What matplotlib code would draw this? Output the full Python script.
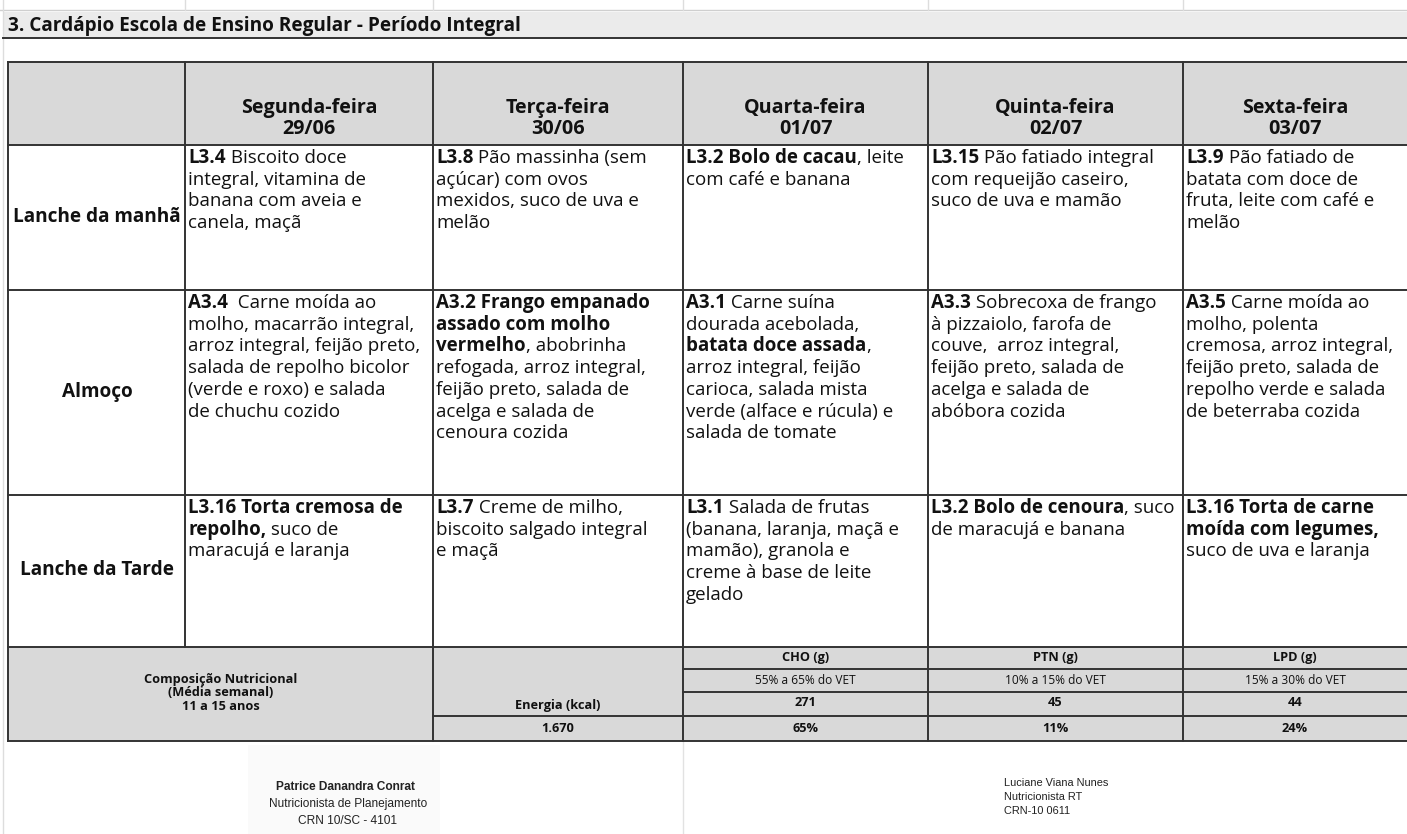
import matplotlib
matplotlib.use("Agg")
import matplotlib.pyplot as plt
from matplotlib.patches import Rectangle
from matplotlib.font_manager import FontProperties

# ---------------- data ----------------
title = "3. Cardápio Escola de Ensino Regular - Período Integral"
days = ["Segunda-feira", "Terça-feira", "Quarta-feira", "Quinta-feira", "Sexta-feira"]
dates = ["29/06", "30/06", "01/07", "02/07", "03/07"]
meals = ["Lanche da manhã", "Almoço", "Lanche da Tarde"]

# **text** = bold
lanche_manha = [
    ["**L3.4** Biscoito doce", "integral, vitamina de", "banana com aveia e", "canela, maçã"],
    ["**L3.8** Pão massinha (sem", "açúcar) com ovos", "mexidos, suco de uva e", "melão"],
    ["**L3.2 Bolo de cacau**, leite", "com café e banana"],
    ["**L3.15** Pão fatiado integral", "com requeijão caseiro,", "suco de uva e mamão"],
    ["**L3.9** Pão fatiado de", "batata com doce de", "fruta, leite com café e", "melão"],
]
almoco = [
    ["**A3.4**  Carne moída ao", "molho, macarrão integral,", "arroz integral, feijão preto,",
     "salada de repolho bicolor", "(verde e roxo) e salada", "de chuchu cozido"],
    ["**A3.2 Frango empanado**", "**assado com molho**", "**vermelho**, abobrinha",
     "refogada, arroz integral,", "feijão preto, salada de", "acelga e salada de", "cenoura cozida"],
    ["**A3.1** Carne suína", "dourada acebolada,", "**batata doce assada**,", "arroz integral, feijão",
     "carioca, salada mista", "verde (alface e rúcula) e", "salada de tomate"],
    ["**A3.3** Sobrecoxa de frango", "à pizzaiolo, farofa de", "couve,  arroz integral,",
     "feijão preto, salada de", "acelga e salada de", "abóbora cozida"],
    ["**A3.5** Carne moída ao", "molho, polenta", "cremosa, arroz integral,",
     "feijão preto, salada de", "repolho verde e salada", "de beterraba cozida"],
]
lanche_tarde = [
    ["**L3.16 Torta cremosa de**", "**repolho,** suco de", "maracujá e laranja"],
    ["**L3.7** Creme de milho,", "biscoito salgado integral", "e maçã"],
    ["**L3.1** Salada de frutas", "(banana, laranja, maçã e", "mamão), granola e",
     "creme à base de leite", "gelado"],
    ["**L3.2 Bolo de cenoura**, suco", "de maracujá e banana"],
    ["**L3.16 Torta de carne**", "**moída com legumes,**", "suco de uva e laranja"],
]
menu = [lanche_manha, almoco, lanche_tarde]

comp_label = ["Composição Nutricional", "(Média semanal)", "11 a 15 anos"]
energy_label = "Energia (kcal)"
energy_value = "1.670"
nutrients = ["CHO (g)", "PTN (g)", "LPD (g)"]
nutrient_ranges = ["55% a 65% do VET", "10% a 15% do VET", "15% a 30% do VET"]
nutrient_grams = ["271", "45", "44"]
nutrient_pct = ["65%", "11%", "24%"]

sig_left = ["Patrice Danandra Conrat", "Nutricionista de Planejamento", "CRN 10/SC - 4101"]
sig_right = ["Luciane Viana Nunes", "Nutricionista RT", "CRN-10 0611"]

# ---------------- layout ----------------
W, H = 1407, 834
col_x = [8, 185, 433, 683, 928, 1183, W]
head_top, head_bot = 62, 145
row_y = [145, 290, 495, 647]
nut_y = [647, 669, 692, 716, 741]

FONT = ["Open Sans", "DejaVu Sans"]
LINE = "#333333"
GRAY = "#d9d9d9"
TXT = "#111111"

fig = plt.figure(figsize=(W / 100, H / 100), dpi=100)
ax = fig.add_axes([0, 0, 1, 1])
ax.set_xlim(0, W)
ax.set_ylim(H, 0)
ax.axis("off")
renderer = fig.canvas.get_renderer()

# spreadsheet grid remnants
ax.plot([0, W], [10, 10], color="#cfcfcf", lw=1)
for x in col_x[1:6]:
    ax.plot([x, x], [0, 10], color="#dddddd", lw=1)
ax.plot([3, 3], [0, H], color="#dddddd", lw=1)
ax.plot([683, 683], [741, H], color="#e2e2e2", lw=1)

# title bar
ax.add_patch(Rectangle((3, 12), W - 3, 26, fc="#ebebeb", ec="none"))
ax.plot([3, W], [38, 38], color=LINE, lw=1.4)
ax.text(8, 26, title, fontsize=13.7, fontweight="bold", family=FONT, va="center", ha="left", color=TXT)

# shaded header and nutrition block
ax.add_patch(Rectangle((col_x[0], head_top), W - col_x[0], head_bot - head_top, fc=GRAY, ec="none"))
ax.add_patch(Rectangle((col_x[0], nut_y[0]), W - col_x[0], nut_y[-1] - nut_y[0], fc=GRAY, ec="none"))

# grid lines of the menu table
for y in [head_top, head_bot] + row_y[1:]:
    ax.plot([col_x[0], W], [y, y], color=LINE, lw=1.4)
for x in col_x[:6]:
    ax.plot([x, x], [head_top, row_y[-1]], color=LINE, lw=1.4)
# nutrition block lines
for y in nut_y[1:3]:
    ax.plot([col_x[3], W], [y, y], color=LINE, lw=1.4)
ax.plot([col_x[2], W], [nut_y[3], nut_y[3]], color=LINE, lw=1.4)
ax.plot([col_x[0], W], [nut_y[4], nut_y[4]], color=LINE, lw=1.4)
for x in [col_x[0], col_x[2], col_x[3], col_x[4], col_x[5]]:
    ax.plot([x, x], [nut_y[0], nut_y[-1]], color=LINE, lw=1.4)

# header
for i, (d, dt) in enumerate(zip(days, dates)):
    cx = (col_x[i + 1] + col_x[i + 2]) / 2
    ax.text(cx, 113, d, fontsize=14.2, fontweight="bold", family=FONT, ha="center", va="baseline", color=TXT)
    ax.text(cx, 134, dt, fontsize=14.2, fontweight="bold", family=FONT, ha="center", va="baseline", color=TXT)

# row labels
for r, m in enumerate(meals):
    cy = (row_y[r] + row_y[r + 1]) / 2
    ax.text((col_x[0] + col_x[1]) / 2 + 0.5, cy - 1, m, fontsize=13.7, fontweight="bold", family=FONT,
            ha="center", va="center", color=TXT)

BODY = 13.5
props = {w: FontProperties(family=FONT, size=BODY, weight=w) for w in ("normal", "bold")}


def text_w(s, weight):
    fp = props[weight]
    a = renderer.get_text_width_height_descent("|" + s + "|", fp, ismath=False)[0]
    b = renderer.get_text_width_height_descent("||", fp, ismath=False)[0]
    return a - b


def rich_line(x, y, markup):
    parts = markup.split("**")
    cx = x
    for i, p in enumerate(parts):
        if not p:
            continue
        w = "bold" if i % 2 else "normal"
        ax.text(cx, y, p, fontproperties=props[w], ha="left", va="baseline", color=TXT)
        cx += text_w(p, w)


for r, row in enumerate(menu):
    for c, lines in enumerate(row):
        x0 = col_x[c + 1] + 3
        for k, ln in enumerate(lines):
            rich_line(x0, row_y[r] + 18 + k * 21.7, ln)

# nutrition block text
NS = 9.2
ccx = (col_x[0] + col_x[2]) / 2
for k, s in enumerate(comp_label):
    ax.text(ccx, 679 + k * 13.5, s, fontsize=NS, fontweight="bold", family=FONT, ha="center", va="center", color=TXT)
ecx = (col_x[2] + col_x[3]) / 2
ax.text(ecx, 706, energy_label, fontsize=NS, fontweight="bold", family=FONT, ha="center", va="center", color=TXT)
ax.text(ecx, 729, energy_value, fontsize=NS, fontweight="bold", family=FONT, ha="center", va="center", color=TXT)
for j in range(3):
    cx = (col_x[3 + j] + col_x[4 + j]) / 2
    ax.text(cx, 657, nutrients[j], fontsize=NS, fontweight="bold", family=FONT, ha="center", va="center", color=TXT)
    ax.text(cx, 680, nutrient_ranges[j], fontsize=8.6, family=FONT, ha="center", va="center", color=TXT)
    ax.text(cx, 703, nutrient_grams[j], fontsize=NS, fontweight="bold", family=FONT, ha="center", va="center", color=TXT)
    ax.text(cx, 728, nutrient_pct[j], fontsize=NS, fontweight="bold", family=FONT, ha="center", va="center", color=TXT)

# signatures
ax.add_patch(Rectangle((248, 745), 192, 89, fc="#fafafa", ec="none"))
SIGF = ["Liberation Sans", "DejaVu Sans"]
ax.text(346, 787, sig_left[0], fontsize=8.6, fontweight="bold", family=SIGF, ha="center", va="center", color="#222")
ax.text(348, 804, sig_left[1], fontsize=8.6, family=SIGF, ha="center", va="center", color="#222")
ax.text(348, 821, sig_left[2], fontsize=8.6, family=SIGF, ha="center", va="center", color="#222")
SIGR = ["Liberation Sans Narrow", "Liberation Sans", "DejaVu Sans"]
for k, s in enumerate(sig_right):
    ax.text(1004, 783 + k * 14, s, fontsize=7.9, family=SIGR, ha="left", va="center", color="#222")

fig.savefig("out.png", dpi=100)
